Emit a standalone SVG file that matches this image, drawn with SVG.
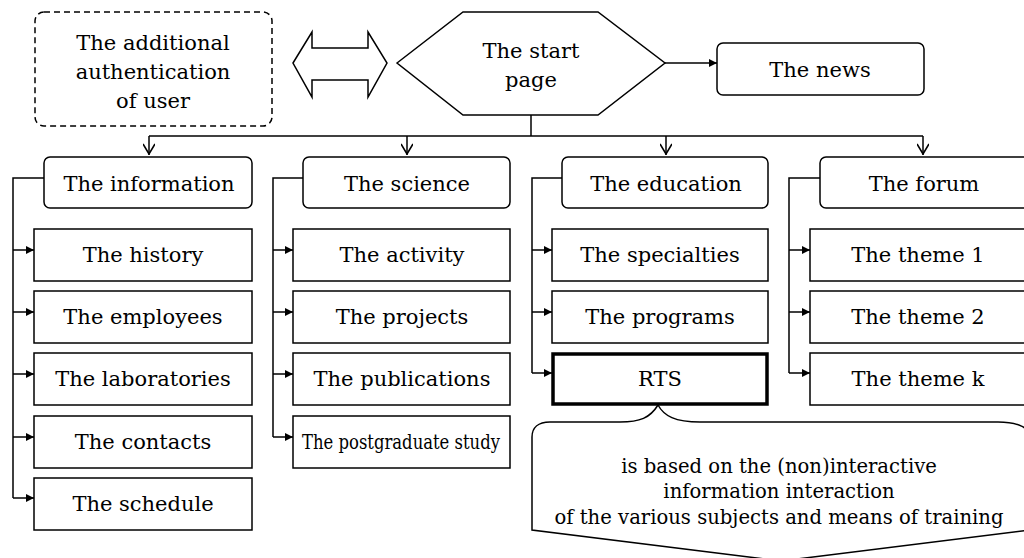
<svg xmlns="http://www.w3.org/2000/svg" width="1024" height="558" viewBox="0 0 1024 558">
<defs>
<style>
.b{fill:#fff;stroke:#000;stroke-width:1.5}
.t{font-family:"DejaVu Serif",serif;font-size:21px;fill:#000;text-anchor:middle}
.s{font-family:"DejaVu Serif",serif;font-size:19.6px;fill:#000;text-anchor:middle}
.c{fill:none;stroke:#000;stroke-width:1.5}
</style>
<marker id="fa" viewBox="0 0 10 10" refX="10" refY="5" markerWidth="8" markerHeight="8" markerUnits="userSpaceOnUse" orient="auto">
<path d="M0,0 L10,5 L0,10 Z" fill="#000"/>
</marker>
<marker id="da" viewBox="0 0 12 12" refX="12" refY="6" markerWidth="12" markerHeight="12" markerUnits="userSpaceOnUse" orient="auto">
<path d="M1,0 L11,6 L1,12" fill="none" stroke="#000" stroke-width="1.6"/>
</marker>
</defs>
<rect width="1024" height="558" fill="#fff"/>

<g id="connectors">
<line class="c" x1="665" y1="63" x2="717" y2="63" marker-end="url(#fa)"/>
<line class="c" x1="531" y1="115" x2="531" y2="136"/>
<line class="c" x1="149" y1="136" x2="923" y2="136"/>
<path class="c" d="M149,136 V155" marker-end="url(#da)"/>
<path class="c" d="M407,136 V155" marker-end="url(#da)"/>
<path class="c" d="M666,136 V155" marker-end="url(#da)"/>
<path class="c" d="M923,136 V155" marker-end="url(#da)"/>
<path class="c" d="M44,178 H13 V498"/>
<path class="c" d="M13,250 H34" marker-end="url(#fa)"/>
<path class="c" d="M13,312 H34" marker-end="url(#fa)"/>
<path class="c" d="M13,374 H34" marker-end="url(#fa)"/>
<path class="c" d="M13,437 H34" marker-end="url(#fa)"/>
<path class="c" d="M13,498 H34" marker-end="url(#fa)"/>
<path class="c" d="M303,178 H273 V437"/>
<path class="c" d="M273,250 H293" marker-end="url(#fa)"/>
<path class="c" d="M273,312 H293" marker-end="url(#fa)"/>
<path class="c" d="M273,374 H293" marker-end="url(#fa)"/>
<path class="c" d="M273,437 H293" marker-end="url(#fa)"/>
<path class="c" d="M562,178 H532 V373"/>
<path class="c" d="M532,250 H552" marker-end="url(#fa)"/>
<path class="c" d="M532,312 H552" marker-end="url(#fa)"/>
<path class="c" d="M532,373 H552" marker-end="url(#fa)"/>
<path class="c" d="M820,178 H789 V373"/>
<path class="c" d="M789,250 H810" marker-end="url(#fa)"/>
<path class="c" d="M789,312 H810" marker-end="url(#fa)"/>
<path class="c" d="M789,373 H810" marker-end="url(#fa)"/>
</g>

<g id="auth">
<rect x="35" y="12" width="237" height="114" rx="9" fill="#fff" stroke="#000" stroke-width="1.5" stroke-dasharray="6,4"/>
<text class="t" x="153" y="50">The additional</text>
<text class="t" x="153" y="79">authentication</text>
<text class="t" x="153" y="108">of user</text>
</g>

<g id="dblarrow">
<polygon class="b" points="293,63 312,32 312,48 368,48 368,32 387,63 368,97 368,80 312,80 312,97"/>
</g>

<g id="start">
<polygon class="b" points="397,63 463,12 598,12 665,63 598,115 463,115"/>
<text class="t" x="531" y="58">The start</text>
<text class="t" x="531" y="87">page</text>
</g>

<g id="news">
<rect class="b" x="717" y="43" width="207" height="52" rx="6"/>
<text class="t" x="820" y="77">The news</text>
</g>

<g id="information">
<rect class="b" x="44" y="157" width="208" height="51" rx="6"/>
<text class="t" x="149" y="191">The information</text>
</g>
<g id="science">
<rect class="b" x="303" y="157" width="207" height="51" rx="6"/>
<text class="t" x="407" y="191">The science</text>
</g>
<g id="education">
<rect class="b" x="562" y="157" width="206" height="51" rx="6"/>
<text class="t" x="666" y="191">The education</text>
</g>
<g id="forum">
<rect class="b" x="820" y="157" width="216" height="51" rx="6"/>
<text class="t" x="924" y="191">The forum</text>
</g>

<g id="history"><rect class="b" x="34" y="229" width="218" height="52"/><text class="t" x="143" y="262">The history</text></g>
<g id="employees"><rect class="b" x="34" y="291" width="218" height="52"/><text class="t" x="143" y="324">The employees</text></g>
<g id="laboratories"><rect class="b" x="34" y="353" width="218" height="52"/><text class="t" x="143" y="386">The laboratories</text></g>
<g id="contacts"><rect class="b" x="34" y="416" width="218" height="52"/><text class="t" x="143" y="449">The contacts</text></g>
<g id="schedule"><rect class="b" x="34" y="478" width="218" height="52"/><text class="t" x="143" y="511">The schedule</text></g>

<g id="activity"><rect class="b" x="293" y="229" width="217" height="52"/><text class="t" x="402" y="262">The activity</text></g>
<g id="projects"><rect class="b" x="293" y="291" width="217" height="52"/><text class="t" x="402" y="324">The projects</text></g>
<g id="publications"><rect class="b" x="293" y="353" width="217" height="52"/><text class="t" x="402" y="386">The publications</text></g>
<g id="postgraduate"><rect class="b" x="293" y="416" width="217" height="52"/><text class="t" x="401" y="449" textLength="198" lengthAdjust="spacingAndGlyphs">The postgraduate study</text></g>

<g id="specialties"><rect class="b" x="552" y="229" width="216" height="52"/><text class="t" x="660" y="262">The specialties</text></g>
<g id="programs"><rect class="b" x="552" y="291" width="216" height="52"/><text class="t" x="660" y="324">The programs</text></g>
<g id="rts"><rect x="553" y="354" width="214" height="50" fill="#fff" stroke="#000" stroke-width="3.5"/><text class="t" x="660" y="386">RTS</text></g>

<g id="theme1"><rect class="b" x="810" y="229" width="226" height="52"/><text class="t" x="918" y="262">The theme 1</text></g>
<g id="theme2"><rect class="b" x="810" y="291" width="226" height="52"/><text class="t" x="918" y="324">The theme 2</text></g>
<g id="themek"><rect class="b" x="810" y="353" width="226" height="52"/><text class="t" x="918" y="386">The theme k</text></g>

<g id="callout">
<path class="b" d="M658,405 C650,418 640,422 620,422 H550 C538,422 532,428 532,437 V530 L781,561 L1030,530 V437 C1030,428 1018,422 998,422 H700 C675,422 664,416 658,405 Z"/>
<text class="s" x="779" y="473">is based on the (non)interactive</text>
<text class="s" x="779" y="498">information interaction</text>
<text class="s" x="779" y="524">of the various subjects and means of training</text>
</g>
</svg>
